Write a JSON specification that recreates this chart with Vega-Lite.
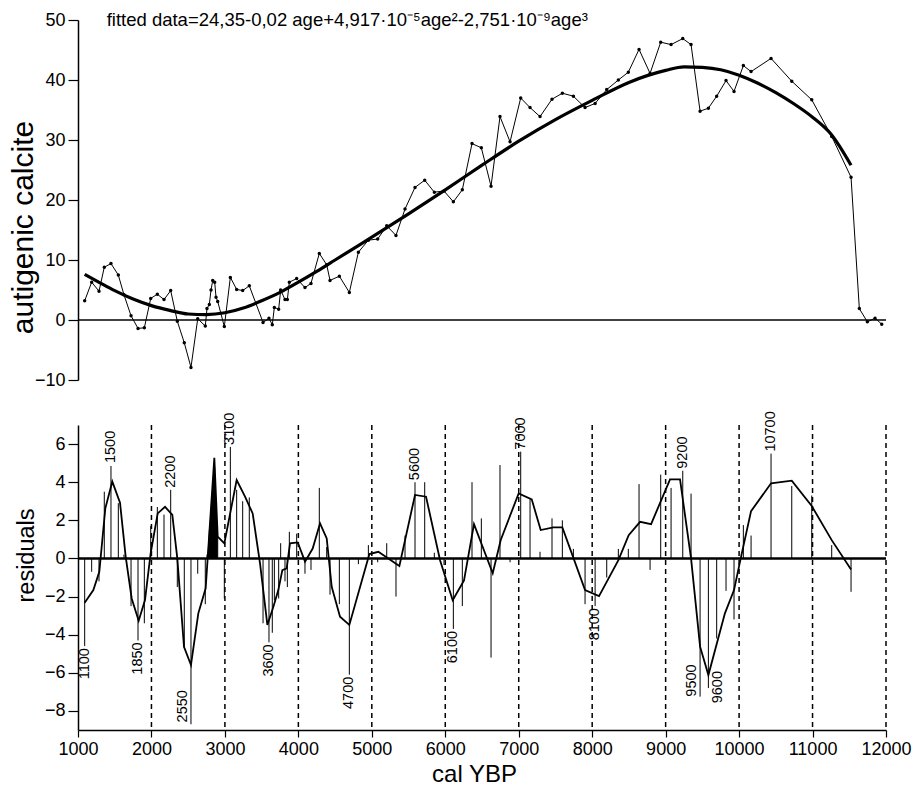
{
  "$schema": "https://vega.github.io/schema/vega-lite/v6.json",
  "autosize": {"type": "pad"},
  "padding": {"left": 8, "top": 11, "right": 0, "bottom": 0},
  "background": "white",
  "spacing": 45,
  "bounds": "flush",
  "config": {
    "view": {"stroke": null},
    "font": "Liberation Sans",
    "axis": {"domainColor": "black", "tickColor": "black", "labelColor": "black", "titleColor": "black", "grid": false, "tickWidth": 1.2, "domainWidth": 1.5, "labelFont": "Liberation Sans", "titleFont": "Liberation Sans", "titleFontWeight": "normal", "labelOverlap": false, "labelFlush": false}
  },
  "datasets": {
    "one": [{"k": 0}],
    "calcite": [
      {"age":1091,"v":3.2},{"age":1186,"v":6.3},{"age":1286,"v":4.8},{"age":1358,"v":8.8},{"age":1449,"v":9.4},{"age":1549,"v":7.5},{"age":1626,"v":4.2},{"age":1722,"v":0.7},{"age":1817,"v":-1.4},{"age":1903,"v":-1.3},{"age":1990,"v":3.6},{"age":2080,"v":4.3},{"age":2171,"v":3.4},{"age":2262,"v":4.9},{"age":2352,"v":-0.2},{"age":2447,"v":-3.8},{"age":2538,"v":-7.9},{"age":2630,"v":0.2},{"age":2733,"v":-1.0},{"age":2756,"v":1.9},{"age":2788,"v":2.6},{"age":2811,"v":5.0},{"age":2834,"v":6.6},{"age":2861,"v":6.3},{"age":2879,"v":3.8},{"age":2902,"v":3.1},{"age":2992,"v":-1.1},{"age":3074,"v":7.1},{"age":3160,"v":5.1},{"age":3242,"v":4.9},{"age":3332,"v":5.7},{"age":3519,"v":-0.4},{"age":3600,"v":0.3},{"age":3645,"v":-0.8},{"age":3673,"v":2.1},{"age":3732,"v":1.8},{"age":3759,"v":5.0},{"age":3818,"v":3.4},{"age":3850,"v":3.4},{"age":3877,"v":6.3},{"age":3977,"v":6.9},{"age":4090,"v":5.4},{"age":4172,"v":6.1},{"age":4285,"v":11.1},{"age":4386,"v":9.2},{"age":4431,"v":6.6},{"age":4558,"v":7.3},{"age":4694,"v":4.6},{"age":4817,"v":11.3},{"age":4953,"v":13.3},{"age":5080,"v":13.5},{"age":5203,"v":15.7},{"age":5329,"v":14.1},{"age":5452,"v":18.5},{"age":5588,"v":22.1},{"age":5720,"v":23.3},{"age":5851,"v":21.3},{"age":5983,"v":21.5},{"age":6110,"v":19.7},{"age":6232,"v":21.7},{"age":6364,"v":29.4},{"age":6491,"v":28.7},{"age":6623,"v":22.3},{"age":6745,"v":33.9},{"age":6882,"v":29.7},{"age":7027,"v":37.0},{"age":7154,"v":35.4},{"age":7290,"v":33.9},{"age":7453,"v":36.8},{"age":7594,"v":37.8},{"age":7744,"v":37.3},{"age":7903,"v":35.4},{"age":8040,"v":36.1},{"age":8198,"v":38.4},{"age":8356,"v":40.0},{"age":8492,"v":41.3},{"age":8638,"v":45.1},{"age":8788,"v":41.1},{"age":8933,"v":46.3},{"age":9074,"v":45.9},{"age":9233,"v":46.9},{"age":9346,"v":45.9},{"age":9469,"v":34.8},{"age":9582,"v":35.3},{"age":9695,"v":37.3},{"age":9822,"v":39.9},{"age":9931,"v":38.1},{"age":10058,"v":42.4},{"age":10163,"v":41.4},{"age":10435,"v":43.6},{"age":10717,"v":39.8},{"age":10989,"v":36.7},{"age":11261,"v":30.6},{"age":11524,"v":23.8},{"age":11637,"v":1.9},{"age":11746,"v":-0.3},{"age":11851,"v":0.3},{"age":11942,"v":-0.7}
    ],
    "fit": [
      {"age":1091,"v":7.6},{"age":1300,"v":6.2},{"age":1500,"v":4.9},{"age":1750,"v":3.5},{"age":2000,"v":2.4},{"age":2250,"v":1.6},{"age":2500,"v":1.0},{"age":2750,"v":0.9},{"age":3000,"v":1.2},{"age":3250,"v":2.0},{"age":3500,"v":3.2},{"age":3750,"v":4.6},{"age":4000,"v":6.3},{"age":4250,"v":8.1},{"age":4500,"v":10.0},{"age":4750,"v":11.9},{"age":5000,"v":13.8},{"age":5500,"v":17.7},{"age":6000,"v":21.7},{"age":6500,"v":25.8},{"age":7000,"v":29.8},{"age":7500,"v":33.4},{"age":8000,"v":36.6},{"age":8500,"v":39.6},{"age":9000,"v":41.6},{"age":9250,"v":42.2},{"age":9500,"v":42.1},{"age":9750,"v":41.7},{"age":10000,"v":40.8},{"age":10250,"v":39.5},{"age":10500,"v":37.9},{"age":10750,"v":36.0},{"age":11000,"v":33.8},{"age":11250,"v":31.0},{"age":11524,"v":25.8}
    ],
    "resid": [
      {"age":1091,"v":-4.6},{"age":1186,"v":-0.7},{"age":1286,"v":-1.2},{"age":1358,"v":3.5},{"age":1449,"v":4.85},{"age":1549,"v":2.9},{"age":1626,"v":0.2},{"age":1722,"v":-2.5},{"age":1817,"v":-4.3},{"age":1903,"v":-3.4},{"age":1990,"v":1.7},{"age":2080,"v":2.7},{"age":2171,"v":2.3},{"age":2262,"v":3.6},{"age":2352,"v":-1.5},{"age":2447,"v":-4.7},{"age":2538,"v":-8.7},{"age":2630,"v":-0.8},{"age":2733,"v":-2.4},{"age":2756,"v":0.2},{"age":2788,"v":1.5},{"age":2811,"v":2.6},{"age":2834,"v":4.0},{"age":2861,"v":4.8},{"age":2879,"v":3.2},{"age":2902,"v":1.1},{"age":2992,"v":-2.1},{"age":3074,"v":5.85},{"age":3160,"v":3.6},{"age":3242,"v":3.0},{"age":3332,"v":3.2},{"age":3519,"v":-3.4},{"age":3600,"v":-4.4},{"age":3645,"v":-3.9},{"age":3673,"v":-2.2},{"age":3732,"v":-2.1},{"age":3759,"v":0.8},{"age":3818,"v":-1.2},{"age":3850,"v":-1.5},{"age":3877,"v":1.4},{"age":3977,"v":1.3},{"age":4090,"v":-0.8},{"age":4172,"v":-0.6},{"age":4285,"v":3.7},{"age":4386,"v":0.6},{"age":4431,"v":-1.9},{"age":4558,"v":-2.4},{"age":4694,"v":-6.1},{"age":4817,"v":-0.3},{"age":4953,"v":0.7},{"age":5080,"v":-0.2},{"age":5203,"v":0.8},{"age":5329,"v":-2.0},{"age":5452,"v":1.2},{"age":5588,"v":4.0},{"age":5720,"v":4.0},{"age":5851,"v":0.3},{"age":5983,"v":-0.35},{"age":6110,"v":-3.7},{"age":6232,"v":-2.5},{"age":6364,"v":4.0},{"age":6491,"v":2.1},{"age":6623,"v":-5.2},{"age":6745,"v":4.9},{"age":6882,"v":-0.2},{"age":7027,"v":5.6},{"age":7154,"v":3.1},{"age":7290,"v":0.35},{"age":7453,"v":2.1},{"age":7594,"v":2.0},{"age":7744,"v":0.5},{"age":7903,"v":-2.4},{"age":8040,"v":-2.5},{"age":8198,"v":-1.0},{"age":8356,"v":0.5},{"age":8492,"v":0.5},{"age":8638,"v":3.9},{"age":8788,"v":-0.6},{"age":8933,"v":4.4},{"age":9074,"v":3.7},{"age":9233,"v":4.6},{"age":9346,"v":3.4},{"age":9469,"v":-7.25},{"age":9582,"v":-6.8},{"age":9695,"v":-4.2},{"age":9822,"v":-1.7},{"age":9931,"v":-3.2},{"age":10058,"v":1.75},{"age":10163,"v":1.2},{"age":10435,"v":5.5},{"age":10717,"v":3.8},{"age":10989,"v":3.3},{"age":11261,"v":0.7},{"age":11524,"v":-1.75}
    ],
    "smooth": [
      {"age":1091,"v":-2.32},{"age":1209,"v":-1.66},{"age":1290,"v":-0.7},{"age":1372,"v":2.63},{"age":1467,"v":4.03},{"age":1572,"v":2.92},{"age":1649,"v":0.1},{"age":1731,"v":-2.1},{"age":1826,"v":-3.27},{"age":1912,"v":-2.18},{"age":1989,"v":0.27},{"age":2085,"v":2.36},{"age":2185,"v":2.71},{"age":2284,"v":2.28},{"age":2352,"v":0},{"age":2443,"v":-4.63},{"age":2538,"v":-5.59},{"age":2638,"v":-2.88},{"age":2738,"v":-1.57},{"age":2856,"v":5.28},{"age":2902,"v":1.14},{"age":2992,"v":0.79},{"age":3160,"v":4.11},{"age":3274,"v":3.24},{"age":3378,"v":2.36},{"age":3478,"v":-0.26},{"age":3578,"v":-3.49},{"age":3660,"v":-2.53},{"age":3727,"v":-1.66},{"age":3782,"v":-0.61},{"age":3841,"v":-0.52},{"age":3886,"v":0.79},{"age":3991,"v":0.84},{"age":4091,"v":-0.17},{"age":4195,"v":0.52},{"age":4295,"v":1.84},{"age":4386,"v":1.05},{"age":4454,"v":-1.49},{"age":4567,"v":-3.06},{"age":4694,"v":-3.49},{"age":4967,"v":0.23},{"age":5089,"v":0.35},{"age":5375,"v":-0.4},{"age":5588,"v":3.33},{"age":5738,"v":3.24},{"age":5929,"v":-0.09},{"age":6101,"v":-2.19},{"age":6255,"v":-1.15},{"age":6391,"v":1.8},{"age":6646,"v":-0.78},{"age":6755,"v":0.97},{"age":6999,"v":3.41},{"age":7177,"v":3.1},{"age":7299,"v":1.49},{"age":7472,"v":1.63},{"age":7594,"v":1.63},{"age":7903,"v":-1.66},{"age":8093,"v":-1.98},{"age":8357,"v":-0.09},{"age":8497,"v":1.22},{"age":8652,"v":1.92},{"age":8802,"v":1.8},{"age":9060,"v":4.15},{"age":9196,"v":4.15},{"age":9346,"v":0},{"age":9469,"v":-4.63},{"age":9582,"v":-6.12},{"age":9807,"v":-2.88},{"age":9931,"v":-1.66},{"age":10022,"v":0},{"age":10163,"v":2.48},{"age":10435,"v":3.94},{"age":10717,"v":4.08},{"age":10989,"v":2.75},{"age":11261,"v":0.96},{"age":11524,"v":-0.58}
    ],
    "filled": [
      {"age":2758,"v":0},{"age":2856,"v":5.28},{"age":2902,"v":1.14}
    ],
    "dashes": [
      {"age":2000},{"age":3000},{"age":4000},{"age":5000},{"age":6000},{"age":7000},{"age":8000},{"age":9000},{"age":10000},{"age":11000},{"age":12000}
    ],
    "labels": [
      {"age":1091,"v":-4.6,"t":"1100","pos":"down"},
      {"age":1449,"v":4.9,"t":"1500","pos":"up"},
      {"age":1817,"v":-4.3,"t":"1850","pos":"down"},
      {"age":2262,"v":3.6,"t":"2200","pos":"up"},
      {"age":2538,"v":-8.6,"t":"2550","pos":"left"},
      {"age":3074,"v":5.85,"t":"3100","pos":"up"},
      {"age":3600,"v":-4.4,"t":"3600","pos":"down"},
      {"age":4694,"v":-6.1,"t":"4700","pos":"down"},
      {"age":5588,"v":4.0,"t":"5600","pos":"up"},
      {"age":6110,"v":-3.7,"t":"6100","pos":"down"},
      {"age":7027,"v":5.6,"t":"7000","pos":"up"},
      {"age":8040,"v":-2.5,"t":"8100","pos":"down"},
      {"age":9233,"v":4.6,"t":"9200","pos":"up"},
      {"age":9469,"v":-7.25,"t":"9500","pos":"left"},
      {"age":9582,"v":-7.6,"t":"9600","pos":"right"},
      {"age":10435,"v":5.5,"t":"10700","pos":"up"}
    ]
  },
  "vconcat": [
    {
      "width": 808,
      "height": 360,
      "layer": [
        {
          "data": {"name": "calcite"},
          "mark": {"type": "line", "color": "black", "strokeWidth": 1},
          "encoding": {
            "x": {"field": "age", "type": "quantitative", "scale": {"domain": [1000, 12000], "nice": false}, "axis": null},
            "y": {"field": "v", "type": "quantitative", "scale": {"domain": [-10, 50], "nice": false},
              "axis": {"values": [-10,-5,0,5,10,15,20,25,30,35,40,45,50], "labelExpr": "datum.value % 10 === 0 ? datum.label : ''", "tickSize": 10, "labelFontSize": 18, "labelPadding": 3, "title": "autigenic calcite", "titleFontSize": 30, "titleX": -46, "titleY": 207, "titleBaseline": "alphabetic"}}
          }
        },
        {
          "data": {"name": "calcite"},
          "mark": {"type": "point", "filled": true, "color": "black", "size": 12, "opacity": 1},
          "encoding": {
            "x": {"field": "age", "type": "quantitative", "axis": null},
            "y": {"field": "v", "type": "quantitative"}
          }
        },
        {
          "data": {"name": "fit"},
          "mark": {"type": "line", "color": "black", "strokeWidth": 3.2, "interpolate": "monotone"},
          "encoding": {
            "x": {"field": "age", "type": "quantitative", "axis": null},
            "y": {"field": "v", "type": "quantitative"}
          }
        },
        {
          "data": {"name": "one"},
          "mark": {"type": "rule", "color": "black", "strokeWidth": 1.5},
          "encoding": {"y": {"datum": 0, "type": "quantitative"}}
        },
        {
          "data": {"name": "one"},
          "mark": {"type": "text", "align": "left", "baseline": "middle", "fontSize": 18.5, "font": "Liberation Sans", "color": "black"},
          "encoding": {
            "x": {"datum": 1390, "type": "quantitative", "axis": null},
            "y": {"datum": 50, "type": "quantitative"},
            "text": {"value": "fitted data=24,35-0,02 age+4,917·10⁻⁵age²-2,751·10⁻⁹age³"}
          }
        }
      ]
    },
    {
      "width": 808,
      "height": 305,
      "layer": [
        {
          "data": {"name": "dashes"},
          "mark": {"type": "rule", "color": "black", "strokeWidth": 1.5, "strokeDash": [5, 4]},
          "encoding": {
            "x": {"field": "age", "type": "quantitative", "scale": {"domain": [1000, 12000], "nice": false},
              "axis": {"values": [1000,1500,2000,2500,3000,3500,4000,4500,5000,5500,6000,6500,7000,7500,8000,8500,9000,9500,10000,10500,11000,11500,12000], "labelExpr": "datum.value % 1000 === 0 ? datum.label : ''", "format": "d", "tickSize": 7, "labelFontSize": 18, "labelPadding": 3, "title": "cal YBP", "titleFontSize": 24, "titleX": 396}},
            "y": {"datum": 7, "type": "quantitative", "scale": {"domain": [-9, 7], "nice": false},
              "axis": {"values": [-8,-7,-6,-5,-4,-3,-2,-1,0,1,2,3,4,5,6,7], "labelExpr": "datum.value % 2 === 0 ? datum.label : ''", "tickSize": 10, "labelFontSize": 18, "labelPadding": 3, "title": "residuals", "titleFontSize": 23.5, "titleX": -45, "titleY": 130, "titleBaseline": "alphabetic"}},
            "y2": {"datum": -9}
          }
        },
        {
          "data": {"name": "filled"},
          "mark": {"type": "area", "color": "black", "opacity": 1},
          "encoding": {
            "x": {"field": "age", "type": "quantitative"},
            "y": {"field": "v", "type": "quantitative"},
            "y2": {"datum": 0}
          }
        },
        {
          "data": {"name": "resid"},
          "mark": {"type": "rule", "color": "black", "strokeWidth": 1},
          "encoding": {
            "x": {"field": "age", "type": "quantitative"},
            "y": {"field": "v", "type": "quantitative"},
            "y2": {"datum": 0}
          }
        },
        {
          "data": {"name": "one"},
          "mark": {"type": "rule", "color": "black", "strokeWidth": 2.5},
          "encoding": {"y": {"datum": 0, "type": "quantitative"}}
        },
        {
          "data": {"name": "smooth"},
          "mark": {"type": "line", "color": "black", "strokeWidth": 1.8},
          "encoding": {
            "x": {"field": "age", "type": "quantitative"},
            "y": {"field": "v", "type": "quantitative"}
          }
        },
        {
          "data": {"name": "labels"},
          "transform": [{"filter": "datum.pos === 'up'"}],
          "mark": {"type": "text", "angle": 270, "align": "left", "baseline": "middle", "dx": 2, "fontSize": 14.5, "color": "black"},
          "encoding": {
            "x": {"field": "age", "type": "quantitative"},
            "y": {"field": "v", "type": "quantitative"},
            "text": {"field": "t"}
          }
        },
        {
          "data": {"name": "labels"},
          "transform": [{"filter": "datum.pos === 'down'"}],
          "mark": {"type": "text", "angle": 270, "align": "right", "baseline": "middle", "dx": -2, "fontSize": 14.5, "color": "black"},
          "encoding": {
            "x": {"field": "age", "type": "quantitative"},
            "y": {"field": "v", "type": "quantitative"},
            "text": {"field": "t"}
          }
        },
        {
          "data": {"name": "labels"},
          "transform": [{"filter": "datum.pos === 'left'"}],
          "mark": {"type": "text", "angle": 270, "align": "left", "baseline": "bottom", "dy": -1, "fontSize": 14.5, "color": "black"},
          "encoding": {
            "x": {"field": "age", "type": "quantitative"},
            "y": {"field": "v", "type": "quantitative"},
            "text": {"field": "t"}
          }
        },
        {
          "data": {"name": "labels"},
          "transform": [{"filter": "datum.pos === 'right'"}],
          "mark": {"type": "text", "angle": 270, "align": "left", "baseline": "top", "dy": 3, "fontSize": 14.5, "color": "black"},
          "encoding": {
            "x": {"field": "age", "type": "quantitative"},
            "y": {"field": "v", "type": "quantitative"},
            "text": {"field": "t"}
          }
        }
      ]
    }
  ]
}
